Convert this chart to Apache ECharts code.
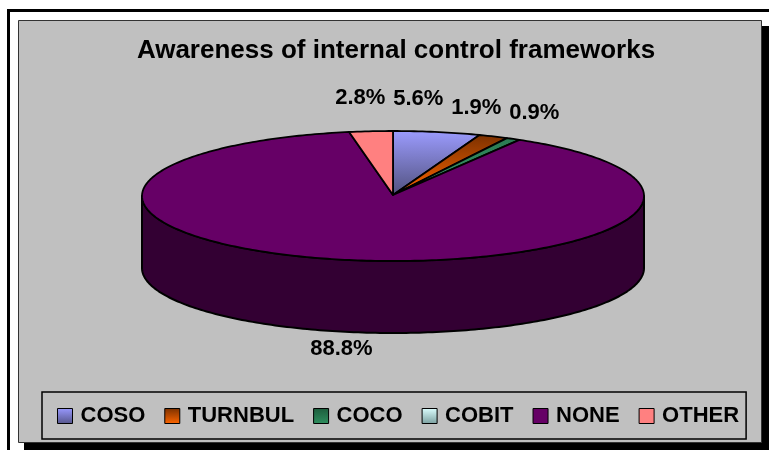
<!DOCTYPE html>
<html>
<head>
<meta charset="utf-8">
<script src="https://cdn.jsdelivr.net/npm/echarts@6/dist/echarts.min.js"></script>
<style>html,body{margin:0;padding:0;background:#fff;}#chart{width:769px;height:450px;}</style>
</head>
<body>
<div id="chart"></div>
<script>
// ---- data ----
const titleText = 'Awareness of internal control frameworks';
const categories = ['COSO', 'TURNBUL', 'COCO', 'COBIT', 'NONE', 'OTHER'];
const values = [5.6, 1.9, 0.9, 0.0, 88.8, 2.8];

// ---- styles ----
const FONT = '"Liberation Sans", Arial, sans-serif';
function grad(c0, c1) {
  return new echarts.graphic.LinearGradient(0, 0, 0, 1, [
    { offset: 0, color: c0 }, { offset: 1, color: c1 }
  ]);
}
const topFill = [
  () => grad('#9c9cff', '#50507c'),
  () => grad('#7a3000', '#ff6600'),
  () => grad('#2a7a52', '#3a9a6a'),
  () => grad('#ccffff', '#7a9999'),
  () => '#660066',
  () => '#ff8080'
];
const legendFill = [
  () => grad('#9999ff', '#55558a'),
  () => grad('#7a3000', '#ff6600'),
  () => grad('#1c5c3c', '#2f8f5f'),
  () => grad('#ddffff', '#7a9f9f'),
  () => '#660066',
  () => '#ff8080'
];
const sideFill = ['#4d4d80', '#803300', '#1a4d33', '#668080', '#330033', '#804040'];

// ---- layout of the 3D pie ----
const CX = 393, CY = 196, RX = 251, RY = 65, DEPTH = 72;
const LCY = CY + 28, LRX = 295, LRY = 127, LGAP = 58;

const total = values.reduce((a, b) => a + b, 0);
const starts = [];
(function () { let acc = 0; values.forEach(v => { starts.push(acc / total * 360); acc += v; }); })();

function pt(a, dy) {
  const r = a * Math.PI / 180;
  return [CX + RX * Math.sin(r), CY - RY * Math.cos(r) + (dy || 0)];
}
function arc(a0, a1, dy) {
  const n = Math.max(2, Math.ceil(Math.abs(a1 - a0)) + 1);
  const pts = [];
  for (let k = 0; k < n; k++) pts.push(pt(a0 + (a1 - a0) * k / (n - 1), dy));
  return pts;
}

// label positions (computed from slice mid-angles, then de-overlapped)
const labelPos = values.map((v, i) => {
  const mid = (starts[i] + v / total * 180) * Math.PI / 180;
  return { x: CX + LRX * Math.sin(mid), y: LCY - LRY * Math.cos(mid), top: Math.cos(mid) > 0, i };
});
(function () {
  const tops = labelPos.filter(p => p.top && values[p.i] > 0).sort((a, b) => a.x - b.x);
  for (let j = tops.length - 2; j >= 0; j--) {
    tops[j].x = Math.min(tops[j].x, tops[j + 1].x - LGAP);
  }
})();

function renderSlice(i, v) {
  const children = [];
  if (v <= 0) return { type: 'group', children: [] };
  const a0 = starts[i], a1 = a0 + v / total * 360;
  // front side wall (visible between 90 and 270 degrees)
  const s0 = Math.max(a0, 90), s1 = Math.min(a1, 270);
  if (s1 > s0) {
    const pts = arc(s0, s1, 0).concat(arc(s1, s0, DEPTH));
    children.push({
      type: 'polygon', z2: 1,
      shape: { points: pts },
      style: { fill: sideFill[i], stroke: '#000', lineWidth: 2, lineJoin: 'round' }
    });
  }
  const topPts = [[CX, CY - 1]].concat(arc(a0, a1, 0));
  children.push({
    type: 'polygon', z2: 10,
    shape: { points: topPts },
    style: { fill: topFill[i](), stroke: '#000', lineWidth: 1.8, lineJoin: 'round' }
  });
  const lp = labelPos[i];
  children.push({
    type: 'text', z2: 20,
    style: {
      text: v.toFixed(1) + '%', x: lp.x, y: lp.y,
      align: 'center', verticalAlign: 'middle',
      font: 'bold 22px ' + FONT, fill: '#000'
    }
  });
  return { type: 'group', children };
}

const series = categories.map((name, i) => ({
  type: 'custom',
  name: name,
  coordinateSystem: 'none',
  data: [[values[i]]],
  silent: true,
  animation: false,
  itemStyle: { color: legendFill[i](), borderColor: '#000', borderWidth: 1 },
  renderItem: function (params, api) { return renderSlice(i, api.value(0)); }
}));

const chart = echarts.init(document.getElementById('chart'), null, { renderer: 'canvas' });
chart.setOption({
  backgroundColor: '#ffffff',
  animation: false,
  graphic: [
    { type: 'rect', shape: { x: 8.5, y: 10.5, width: 800, height: 500 }, style: { fill: '#fff', stroke: '#000', lineWidth: 3 } },
    { type: 'rect', shape: { x: 24, y: 26, width: 760, height: 430 }, style: { fill: '#000' } },
    { type: 'rect', shape: { x: 18.5, y: 20.5, width: 743, height: 422 }, style: { fill: '#c0c0c0', stroke: '#333', lineWidth: 1 } }
  ],
  title: {
    text: titleText,
    left: 391, top: 33, textAlign: 'center', padding: 5,
    textStyle: { fontSize: 26, fontWeight: 'bold', fontFamily: FONT, color: '#000' }
  },
  legend: {
    data: categories,
    left: 42, top: 392,
    orient: 'horizontal',
    icon: 'rect',
    itemWidth: 15, itemHeight: 15, itemGap: 19,
    padding: [13, 7, 12, 15],
    borderColor: '#000', borderWidth: 1.5,
    selectedMode: false,
    itemStyle: { borderColor: '#000', borderWidth: 1 },
    textStyle: { fontSize: 22, fontWeight: 'bold', fontFamily: FONT, color: '#000', padding: [0, 0, 0, 3] }
  },
  series: series
});
</script>
</body>
</html>
